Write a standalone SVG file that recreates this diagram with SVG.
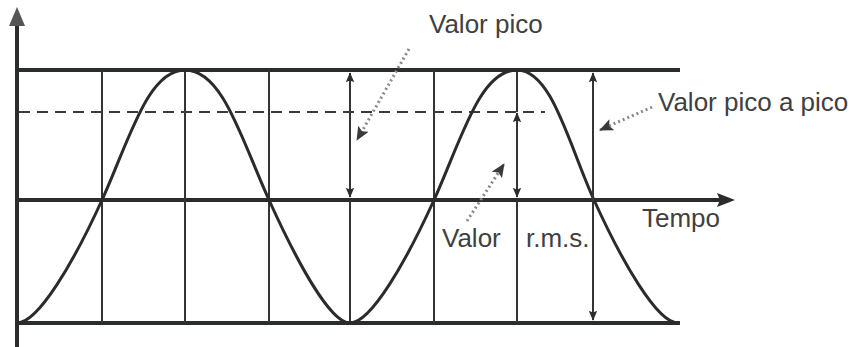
<svg xmlns="http://www.w3.org/2000/svg" width="855" height="347" viewBox="0 0 855 347">
<style>
.axis{stroke:#2b2d2d;stroke-width:4;fill:none}
.grid{stroke:#333535;stroke-width:2;fill:none}
.dash{stroke:#3a3a3a;stroke-width:2;stroke-dasharray:11,7;fill:none}
.wave{stroke:#2b2b2b;stroke-width:3;fill:none}
.dim{stroke:#333535;stroke-width:2;fill:none}
.ptr{stroke:#888;stroke-width:3;stroke-dasharray:2,3;fill:none}
.lbl{font-family:"Liberation Sans",Arial,sans-serif;font-size:26px;fill:#404040}
</style>
<defs>
<marker id="ah" markerWidth="10" markerHeight="12" refX="11" refY="5" orient="auto-start-reverse" markerUnits="userSpaceOnUse" viewBox="0 0 12 10">
<path d="M0,0 L12,5 L0,10 L2,5 Z" fill="#2b2d2d"/>
</marker>
<marker id="pa" markerWidth="14" markerHeight="12" refX="13" refY="6" orient="auto" markerUnits="userSpaceOnUse" viewBox="0 0 14 12">
<path d="M0,0 L14,6 L0,12 L3,6 Z" fill="#3a3a3a"/>
</marker>
</defs>
<g id="axes">
<line class="axis" x1="17" y1="347" x2="17" y2="24"/>
<polygon points="17,7 25,26 9,26" fill="#555"/>
<line class="axis" x1="15" y1="70" x2="680" y2="70"/>
<line class="axis" x1="15" y1="323" x2="680" y2="323"/>
<line class="axis" x1="15" y1="200" x2="720" y2="200"/>
<polygon points="735,200 717,193 720,200 717,207" fill="#2b2d2d"/>
</g>
<g id="grid">
<line class="grid" x1="102" y1="70" x2="102" y2="323"/>
<line class="grid" x1="185" y1="70" x2="185" y2="323"/>
<line class="grid" x1="269" y1="70" x2="269" y2="323"/>
<line class="grid" x1="350" y1="200" x2="350" y2="323"/>
<line class="grid" x1="434" y1="70" x2="434" y2="323"/>
<line class="grid" x1="517" y1="70" x2="517" y2="112"/>
<line class="grid" x1="517" y1="200" x2="517" y2="323"/>
<line class="dash" x1="19" y1="112" x2="545" y2="112"/>
</g>
<g id="wave">
<path class="wave" d="M17,323 C38.3,323 73.9,261.7 102,200 C129.4,139.7 147.6,70 185,70 C222.8,70 241.3,139 269,200 C295.7,258.8 329.8,323 350,323 C371,323 406.3,261 434,200 C461.4,139.7 479.6,70 517,70 C551.7,70 568.6,144.1 594,200 C621.7,261 657,323 678,323"/>
</g>
<g id="connectors">
<line class="dim" x1="350" y1="73" x2="350" y2="197" marker-start="url(#ah)" marker-end="url(#ah)"/>
<line class="dim" x1="517" y1="113" x2="517" y2="197" marker-start="url(#ah)" marker-end="url(#ah)"/>
<line class="dim" x1="593" y1="73" x2="593" y2="320" marker-start="url(#ah)" marker-end="url(#ah)"/>
<line class="ptr" x1="409" y1="49" x2="357" y2="140" marker-end="url(#pa)"/>
<line class="ptr" x1="652" y1="107" x2="600" y2="130" marker-end="url(#pa)"/>
<line class="ptr" x1="467" y1="221" x2="504" y2="164" marker-end="url(#pa)"/>
</g>
<g id="label-pico"><text class="lbl" x="429" y="33">Valor pico</text></g>
<g id="label-ppico"><text class="lbl" x="658" y="111">Valor pico a pico</text></g>
<g id="label-tempo"><text class="lbl" x="642" y="227">Tempo</text></g>
<g id="label-rms"><text class="lbl" x="442" y="247">Valor</text><text class="lbl" x="526" y="247">r.m.s.</text></g>
</svg>
